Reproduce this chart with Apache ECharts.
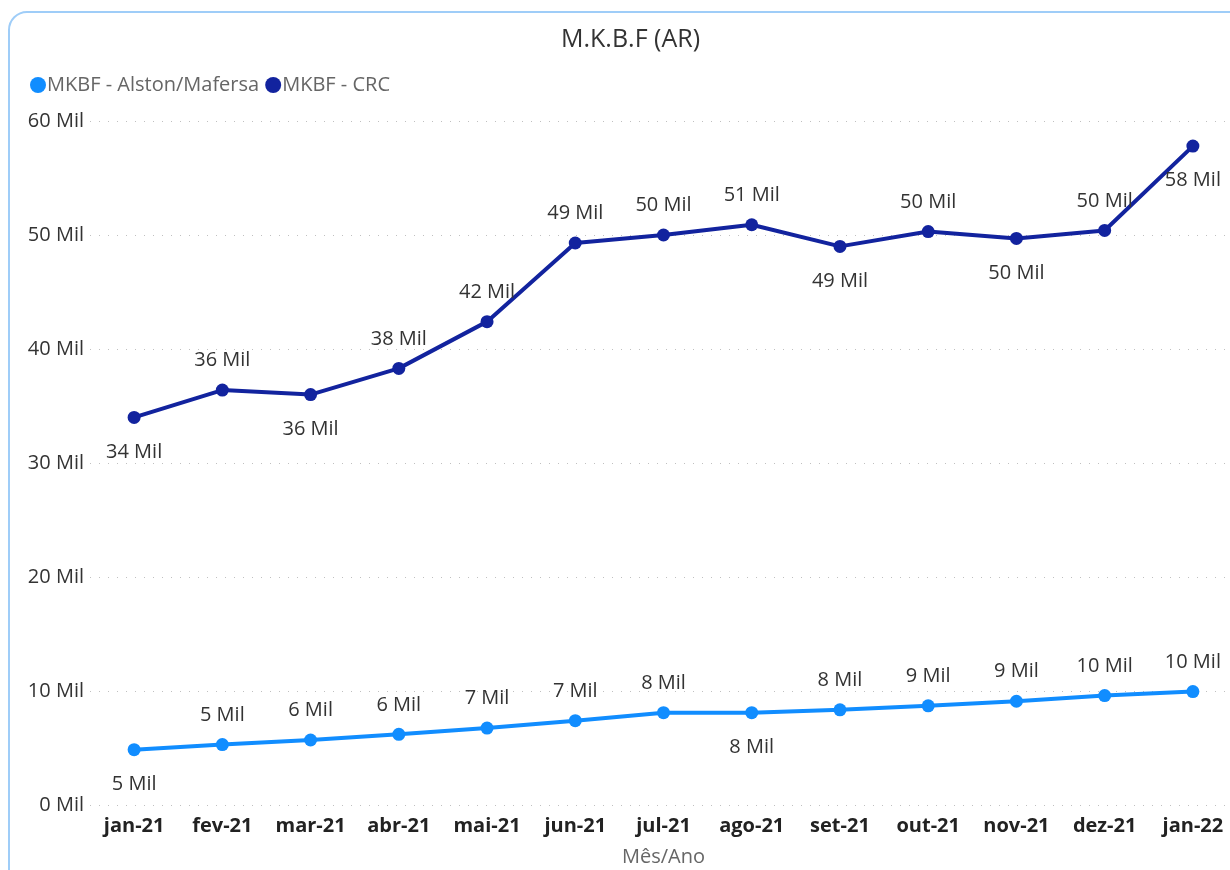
<!DOCTYPE html>
<html>
<head>
<meta charset="utf-8">
<script src="https://cdn.jsdelivr.net/npm/echarts@6/dist/echarts.min.js"></script>
<style>
  html, body { margin: 0; padding: 0; background: #fff; }
  #main { width: 1230px; height: 870px; }
</style>
</head>
<body>
<div id="main"></div>
<script>
const months = ['jan-21', 'fev-21', 'mar-21', 'abr-21', 'mai-21', 'jun-21', 'jul-21',
  'ago-21', 'set-21', 'out-21', 'nov-21', 'dez-21', 'jan-22'];
const alston = [4850, 5300, 5700, 6200, 6750, 7400, 8100, 8100, 8350, 8700, 9100, 9600, 9950];
const crc = [34000, 36400, 36000, 38300, 42400, 49300, 50000, 50900, 49000, 50300, 49700, 50400, 57800];
// onde o Power BI pôs cada rótulo (acima/abaixo do ponto)
const alstonPos = ['bottom', 'top', 'top', 'top', 'top', 'top', 'top', 'bottom', 'top', 'top', 'top', 'top', 'top'];
const crcPos = ['bottom', 'top', 'bottom', 'top', 'top', 'top', 'top', 'top', 'bottom', 'top', 'bottom', 'top', 'bottom'];

const font = '"Open Sans", "Noto Sans", sans-serif';

function fmtMil(v) {
  return Math.round(v / 1000) + ' Mil';
}

function withLabels(values, positions) {
  return values.map((v, i) => ({
    value: v,
    label: { position: positions[i], distance: positions[i] === 'bottom' ? 18 : 13 }
  }));
}

const chart = echarts.init(document.getElementById('main'));

const dataLabel = {
  show: true,
  fontFamily: font,
  fontSize: 20,
  color: '#333333',
  formatter: p => fmtMil(p.value)
};

const option = {
  animation: false,
  textStyle: { fontFamily: font },
  graphic: [{
    type: 'rect',
    shape: { x: 9, y: 12, width: 1240, height: 880, r: 18 },
    style: { fill: 'none', stroke: '#9fcdf8', lineWidth: 2 },
    silent: true
  }],
  title: {
    text: 'M.K.B.F (AR)',
    left: 556,
    top: 22,
    textStyle: { fontFamily: font, fontSize: 25, fontWeight: 'normal', color: '#333333' }
  },
  legend: {
    left: 25,
    top: 70,
    icon: 'circle',
    itemWidth: 16,
    itemHeight: 16,
    itemGap: 6,
    textStyle: { fontFamily: font, fontSize: 20, color: '#666666', padding: [0, 0, 0, -4] }
  },
  grid: { left: 90, width: 1147, top: 121, bottom: 65, outerBoundsMode: 'none', containLabel: false },
  xAxis: {
    type: 'category',
    data: months,
    boundaryGap: true,
    name: 'Mês/Ano',
    nameLocation: 'middle',
    nameGap: 42,
    nameTextStyle: { fontFamily: font, fontSize: 20, color: '#666666' },
    axisLine: { show: false },
    axisTick: { show: false },
    axisLabel: { interval: 0, fontFamily: font, fontSize: 20, fontWeight: 'bold', color: '#222222', margin: 11 }
  },
  yAxis: {
    type: 'value',
    min: 0,
    max: 60000,
    interval: 10000,
    axisLabel: { fontFamily: font, fontSize: 20, color: '#333333', margin: 6, formatter: fmtMil },
    splitLine: { lineStyle: { type: [1, 8], color: '#c0c0c0', width: 1 } }
  },
  series: [
    {
      name: 'MKBF - Alston/Mafersa',
      type: 'line',
      data: withLabels(alston, alstonPos),
      color: '#118DFF',
      symbol: 'circle',
      symbolSize: 13,
      lineStyle: { width: 4 },
      label: dataLabel
    },
    {
      name: 'MKBF - CRC',
      type: 'line',
      data: withLabels(crc, crcPos),
      color: '#12239E',
      symbol: 'circle',
      symbolSize: 13,
      lineStyle: { width: 4 },
      label: dataLabel
    }
  ]
};

chart.setOption(option);
</script>
</body>
</html>
